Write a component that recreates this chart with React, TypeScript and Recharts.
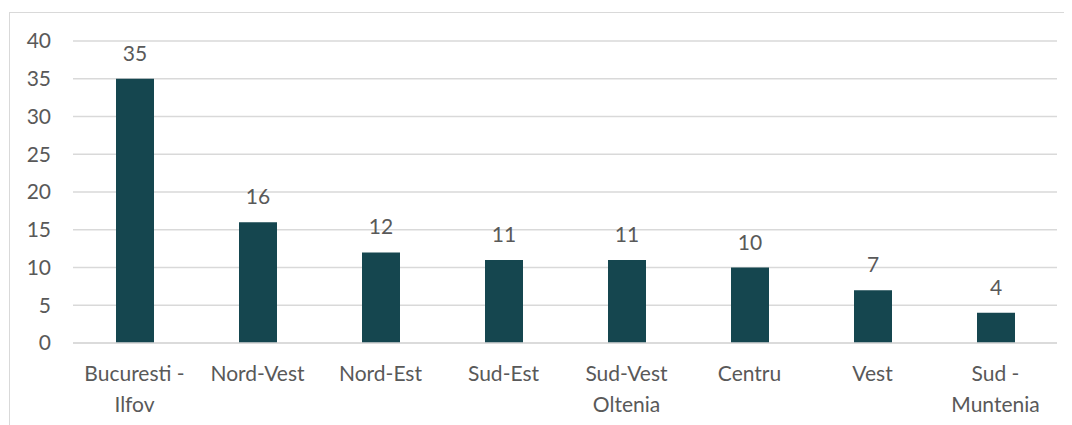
import { BarChart, Bar, XAxis, YAxis, CartesianGrid, LabelList } from "recharts";

const regions = [
  "Bucuresti - Ilfov",
  "Nord-Vest",
  "Nord-Est",
  "Sud-Est",
  "Sud-Vest Oltenia",
  "Centru",
  "Vest",
  "Sud - Muntenia",
];
const counts = [35, 16, 12, 11, 11, 10, 7, 4];
const yTicks = [0, 5, 10, 15, 20, 25, 30, 35, 40];

const data = regions.map((name, i) => ({ name, value: counts[i] }));

const TEXT = "#595959";
const FONT = "Lato, 'Open Sans', sans-serif";

const splitLabel = (s: string): string[] => {
  if (s === "Bucuresti - Ilfov") return ["Bucuresti -", "Ilfov"];
  if (s === "Sud-Vest Oltenia") return ["Sud-Vest", "Oltenia"];
  if (s === "Sud - Muntenia") return ["Sud -", "Muntenia"];
  return [s];
};

const XTick = (props: any) => {
  const { x, y, payload } = props;
  const lines = splitLabel(payload.value);
  return (
    <g transform={`translate(${x},${y})`}>
      {lines.map((line, i) => (
        <text
          key={i}
          x={0}
          y={36 + i * 31}
          textAnchor="middle"
          fill={TEXT}
          fontSize={21}
          fontFamily={FONT}
        >
          {line}
        </text>
      ))}
    </g>
  );
};

export default function App() {
  return (
    <div
      style={{
        marginLeft: 1,
        marginTop: 4,
        width: 1054,
        height: 420,
        border: "1px solid #d9d9d9",
        background: "#fff",
      }}
    >
      <BarChart
        width={1054}
        height={420}
        data={data}
        margin={{ top: 28, right: 7, bottom: 0, left: 0 }}
      >
        <CartesianGrid vertical={false} stroke="#d9d9d9" strokeWidth={1.5} />
        <XAxis
          dataKey="name"
          axisLine={{ stroke: "#d9d9d9", strokeWidth: 1.5 }}
          tickLine={false}
          tickSize={0}
          tick={<XTick />}
          interval={0}
          height={90}
        />
        <YAxis
          domain={[0, 40]}
          ticks={yTicks}
          axisLine={false}
          tickLine={false}
          tickSize={0}
          tickMargin={22}
          width={63}
          tick={{ fill: TEXT, fontSize: 21, fontFamily: FONT }}
        />
        <Bar dataKey="value" fill="#15464f" barSize={38} isAnimationActive={false}>
          <LabelList
            dataKey="value"
            position="top"
            offset={18}
            fill={TEXT}
            fontSize={21}
            fontFamily={FONT}
          />
        </Bar>
      </BarChart>
    </div>
  );
}
